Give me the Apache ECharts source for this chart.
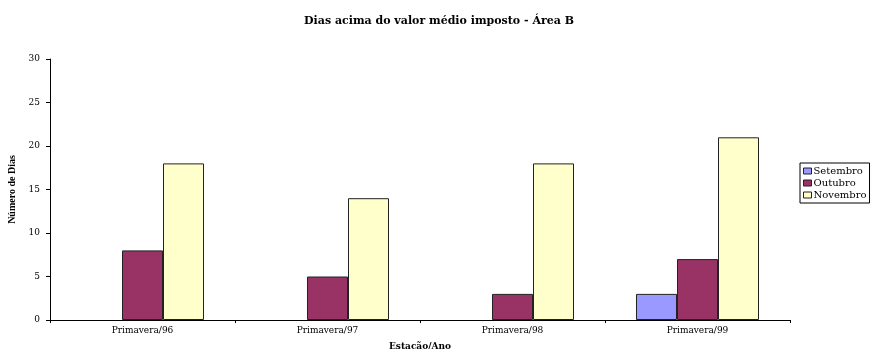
<!DOCTYPE html>
<html>
<head>
<meta charset="utf-8">
<script src="https://cdn.jsdelivr.net/npm/echarts@6/dist/echarts.min.js"></script>
<style>
  html, body { margin: 0; padding: 0; background: #fff; }
  #chart { width: 873px; height: 349px; }
</style>
</head>
<body>
<div id="chart"></div>
<script>
// Seasons (x categories) and days above the imposed mean, per month
const categories = ['Primavera/96', 'Primavera/97', 'Primavera/98', 'Primavera/99'];
const setembro = [0, 0, 0, 3];
const outubro = [8, 5, 3, 7];
const novembro = [18, 14, 18, 21];
const yTicks = [0, 5, 10, 15, 20, 25, 30];

const serif = '"DejaVu Serif", "Liberation Serif", serif';
const narrowSerif = '"Liberation Serif", serif';

// Bars with a value of zero are left without an outline
function bars(values) {
  return values.map(v => (v === 0 ? { value: v, itemStyle: { borderWidth: 0 } } : v));
}

function barSeries(name, values, color) {
  return {
    name, type: 'bar', data: bars(values),
    barGap: '0%', barCategoryGap: '33.5%',
    itemStyle: { color, borderColor: '#222', borderWidth: 1 }
  };
}

const chart = echarts.init(document.getElementById('chart'), null, { renderer: 'canvas' });
chart.setOption({
  animation: false,
  backgroundColor: '#fff',
  title: {
    text: 'Dias acima do valor médio imposto - Área B',
    left: 434,
    textAlign: 'center',
    top: 11,
    textStyle: { fontFamily: serif, fontSize: 11, fontWeight: 'bold', color: '#000' }
  },
  legend: {
    orient: 'vertical',
    left: 800,
    top: 163,
    icon: 'rect',
    itemWidth: 8,
    itemHeight: 6,
    itemGap: 2,
    padding: [3, 3, 3, 3],
    borderColor: '#000',
    borderWidth: 1,
    borderRadius: 0,
    itemStyle: { borderColor: '#222', borderWidth: 1 },
    textStyle: { fontFamily: serif, fontSize: 10, color: '#000', padding: [0, 0, 0, -3] },
    data: ['Setembro', 'Outubro', 'Novembro']
  },
  grid: { left: 50, right: 83, top: 59, bottom: 29, containLabel: false, outerBoundsMode: 'none' },
  xAxis: {
    type: 'category',
    data: categories,
    name: 'Estação/Ano',
    nameLocation: 'middle',
    nameGap: 22,
    nameTextStyle: { fontFamily: serif, fontSize: 9, fontWeight: 'bold', color: '#000' },
    axisLine: { lineStyle: { color: '#000', width: 1 } },
    axisTick: { show: true, length: 3, lineStyle: { color: '#000' } },
    axisLabel: { fontFamily: serif, fontSize: 9, color: '#000', margin: 6 },
    splitLine: { show: false }
  },
  yAxis: {
    type: 'value',
    min: 0,
    max: 30,
    interval: 5,
    name: 'Número de Dias',
    nameLocation: 'middle',
    nameGap: 30,
    nameRotate: 90,
    nameTextStyle: { fontFamily: narrowSerif, fontSize: 10, fontWeight: 'bold', color: '#000' },
    axisLine: { show: true, lineStyle: { color: '#000', width: 1 } },
    axisTick: { show: true, length: 4, lineStyle: { color: '#000' } },
    axisLabel: {
      fontFamily: serif, fontSize: 9, color: '#000', margin: 10,
      formatter: v => (yTicks.includes(v) ? String(v) : '')
    },
    splitLine: { show: false }
  },
  series: [
    barSeries('Setembro', setembro, '#9999FF'),
    barSeries('Outubro', outubro, '#993366'),
    barSeries('Novembro', novembro, '#FFFFCC')
  ]
});
</script>
</body>
</html>
